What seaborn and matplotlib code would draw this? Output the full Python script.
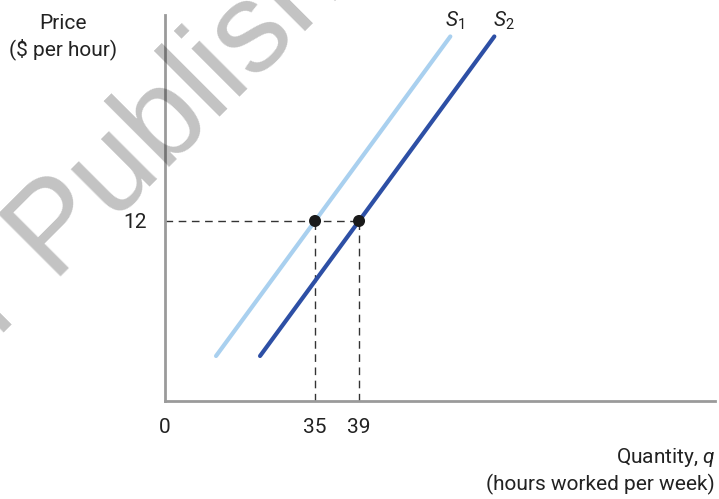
import numpy as np
import pandas as pd
import seaborn as sns
import matplotlib
matplotlib.use('Agg')
import matplotlib.pyplot as plt

# data
s1_q = [26.0, 47.3]
s1_p = [3.0, 24.3]
s2_q = [30.0, 51.3]
s2_p = [3.0, 24.3]
eq_q = [35, 39]
eq_p = [12, 12]
price_ticks = [12]
q_ticks = [35, 39]

sns.set_style('white')
plt.rcParams['font.family'] = ['Roboto', 'DejaVu Sans']
plt.rcParams['mathtext.fontset'] = 'custom'
plt.rcParams['mathtext.it'] = 'Roboto:italic'
plt.rcParams['mathtext.rm'] = 'Roboto'

fig = plt.figure(figsize=(7.19, 4.99), dpi=100)
ax = fig.add_axes([165 / 719, 98 / 499, 550 / 719, 386 / 499])

x_min, x_max = 21.36, 71.36
ax.set_xlim(x_min, x_max)
ax.set_ylim(0, 25.73)

# watermark
fig.text(-2 / 719, 1 - 338 / 499, 'r Publish', rotation=45, rotation_mode='anchor',
         fontsize=92, family='Liberation Sans', color='black', alpha=0.24,
         ha='left', va='baseline', zorder=10)

lines = pd.DataFrame({
    'q': s1_q + s2_q,
    'p': s1_p + s2_p,
    'curve': ['S1', 'S1', 'S2', 'S2'],
})
sns.lineplot(data=lines, x='q', y='p', hue='curve',
             palette={'S1': '#a9d0ef', 'S2': '#2d4fa5'},
             linewidth=3, legend=False, ax=ax, zorder=3)

# dashed guides
dash_kw = dict(color='#333333', linewidth=1, dashes=(5.5, 4), zorder=2)
ax.plot([x_min, max(eq_q)], [eq_p[0], eq_p[0]], **dash_kw)
for q, p in zip(eq_q, eq_p):
    ax.plot([q, q], [0, p], **dash_kw)

sns.scatterplot(x=eq_q, y=eq_p, color='#1a1a1a', s=75, edgecolor='none',
                ax=ax, zorder=4)

# curve labels
ax.annotate(r'$S_1$', xy=(s1_q[-1], s1_p[-1]), xytext=(-4, 3),
            textcoords='offset points', ha='left', va='bottom',
            fontsize=15, color='#222222')
ax.annotate(r'$S_2$', xy=(s2_q[-1], s2_p[-1]), xytext=(-1, 3),
            textcoords='offset points', ha='left', va='bottom',
            fontsize=15, color='#222222')

# axes styling
for side in ['top', 'right']:
    ax.spines[side].set_visible(False)
for side in ['left', 'bottom']:
    ax.spines[side].set_color('#9a9a9a')
    ax.spines[side].set_linewidth(2)

ax.set_xticks([x_min] + q_ticks)
ax.set_xticklabels(['0'] + [str(t) for t in q_ticks])
ax.set_yticks(price_ticks)
ax.set_yticklabels([str(t) for t in price_ticks])
ax.tick_params(axis='both', length=0, labelsize=15, colors='#222222')
ax.tick_params(axis='x', pad=12)
ax.tick_params(axis='y', pad=13)
ax.set_xlabel('')
ax.set_ylabel('')

fig.text(63 / 719, 1 - 14 / 499, 'Price\n($ per hour)', ha='center', va='top',
         fontsize=15, color='#222222', linespacing=1.3)
fig.text(715 / 719, 1 - 446 / 499, 'Quantity, $q$\n(hours worked per week)',
         ha='right', va='top', fontsize=15, color='#222222', linespacing=1.3)

fig.savefig('out.png', dpi=100)
